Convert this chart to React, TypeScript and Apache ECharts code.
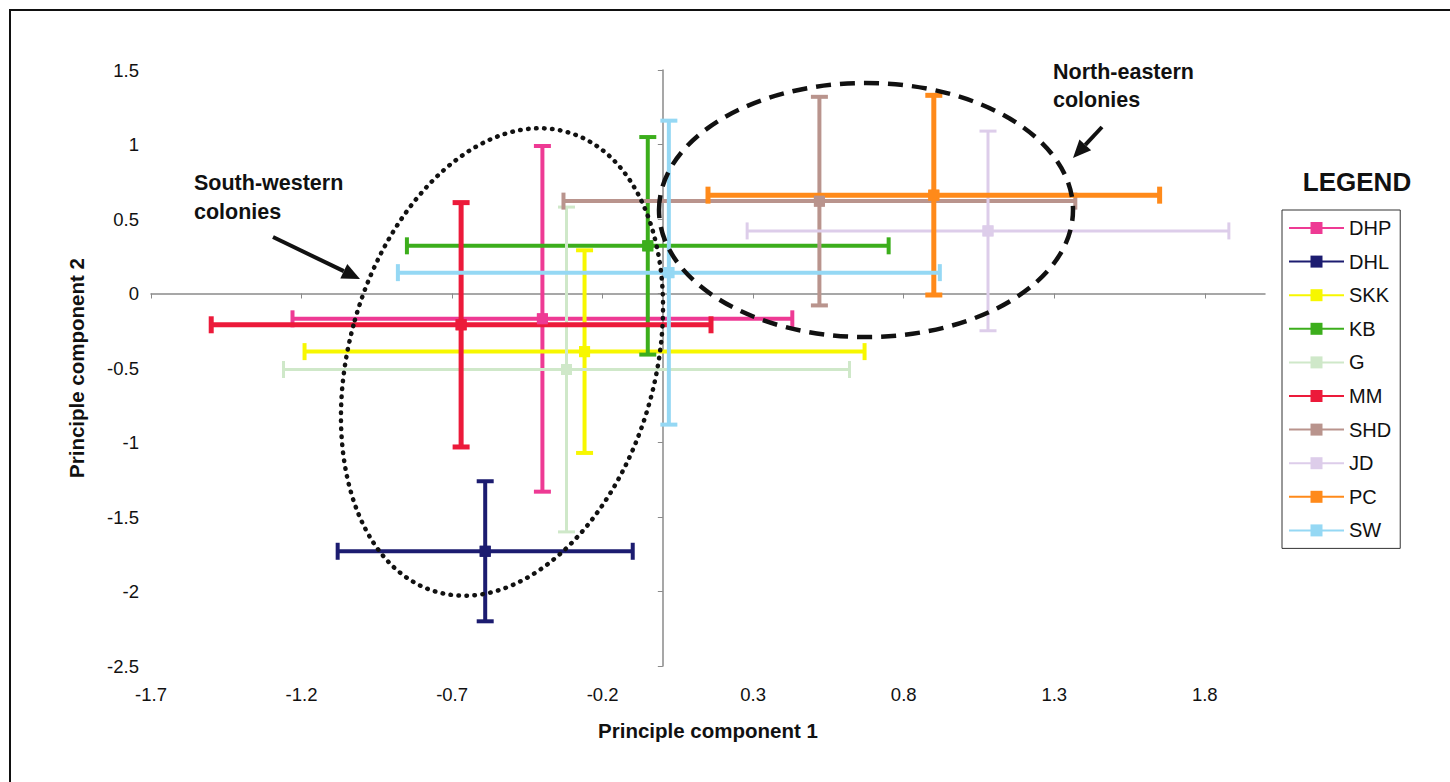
import React, { useEffect, useRef } from 'react';
import * as echarts from 'echarts';

// ---- data ----
const groups = ['DHP', 'DHL', 'SKK', 'KB', 'G', 'MM', 'SHD', 'JD', 'PC', 'SW'];
const pc1 = [-0.40, -0.59, -0.26, -0.05, -0.32, -0.67, 0.52, 1.08, 0.90, 0.02];
const pc1Sd = [0.83, 0.49, 0.93, 0.80, 0.94, 0.83, 0.85, 0.80, 0.75, 0.90];
const pc2 = [-0.17, -1.73, -0.39, 0.32, -0.51, -0.21, 0.62, 0.42, 0.66, 0.14];
const pc2Sd = [1.16, 0.47, 0.68, 0.73, 1.09, 0.82, 0.70, 0.67, 0.67, 1.02];
const xTicks = [-1.7, -1.2, -0.7, -0.2, 0.3, 0.8, 1.3, 1.8];
const yTicks = [-2.5, -2, -1.5, -1, -0.5, 0, 0.5, 1, 1.5];

// ---- styles ----
const colors = ['#ee3a94', '#1c1c70', '#f7f700', '#3cae1c', '#cfe8c9', '#ec1a3a', '#b9948d', '#ddcdea', '#ff8a1a', '#95d8f4'];
const widths = [4, 4, 4, 4, 3, 5, 4, 3, 5, 4];
const FONT = "'Liberation Sans', Arial, Helvetica, sans-serif";

function arrow(x1: number, y1: number, x2: number, y2: number) {
  const dx = x2 - x1, dy = y2 - y1;
  const len = Math.sqrt(dx * dx + dy * dy);
  const ux = dx / len, uy = dy / len;
  const hl = 18, hw = 8;
  const bx = x2 - ux * hl, by = y2 - uy * hl;
  const px = -uy, py = ux;
  return [
    { type: 'line', shape: { x1, y1, x2: bx, y2: by }, style: { stroke: '#111', lineWidth: 4 } },
    {
      type: 'polygon',
      shape: { points: [[x2, y2], [bx + px * hw, by + py * hw], [bx - px * hw, by - py * hw]] },
      style: { fill: '#111' },
    },
  ];
}

export default function App() {
  const ref = useRef<HTMLDivElement>(null);
  useEffect(() => {
    const chart = echarts.init(ref.current!, null, { renderer: 'svg' });
    const series: any[] = [];
    groups.forEach((g, i) => {
      const color = colors[i];
      const lw = widths[i];
      series.push({
        type: 'line',
        name: g,
        data: [[pc1[i], pc2[i]]],
        symbol: 'rect',
        symbolSize: 11,
        itemStyle: { color },
        lineStyle: { color, width: 2 },
        emphasis: { disabled: true },
        silent: true,
      });
      series.push({
        type: 'custom',
        name: g,
        data: [[pc1[i], pc2[i], pc1[i] - pc1Sd[i], pc1[i] + pc1Sd[i], pc2[i] - pc2Sd[i], pc2[i] + pc2Sd[i]]],
        encode: { x: [0, 2, 3], y: [1, 4, 5] },
        silent: true,
        renderItem: (params: any, api: any) => {
          const cx = api.value(0), cy = api.value(1);
          const l = api.coord([api.value(2), cy]);
          const r = api.coord([api.value(3), cy]);
          const b = api.coord([cx, api.value(4)]);
          const t = api.coord([cx, api.value(5)]);
          const c = api.coord([cx, cy]);
          const cap = 8.5;
          const st = { stroke: color, lineWidth: lw };
          const ln = (x1: number, y1: number, x2: number, y2: number) => ({ type: 'line', shape: { x1, y1, x2, y2 }, style: st });
          return {
            type: 'group',
            children: [
              ln(l[0], l[1], r[0], r[1]),
              ln(b[0], b[1], t[0], t[1]),
              ln(l[0], l[1] - cap, l[0], l[1] + cap),
              ln(r[0], r[1] - cap, r[0], r[1] + cap),
              ln(b[0] - cap, b[1], b[0] + cap, b[1]),
              ln(t[0] - cap, t[1], t[0] + cap, t[1]),
              { type: 'rect', shape: { x: c[0] - 5.5, y: c[1] - 5.5, width: 11, height: 11 }, style: { fill: color } },
            ],
          };
        },
      });
    });

    const axisFont = { fontSize: 18.5, color: '#111', fontFamily: FONT };
    const nameFont = { fontSize: 20.5, fontWeight: 'bold', color: '#111', fontFamily: FONT };

    chart.setOption({
      animation: false,
      backgroundColor: '#ffffff',
      grid: { left: 151, right: 185, top: 70, bottom: 116, containLabel: false, outerBoundsMode: 'none' },
      xAxis: [
        {
          type: 'value', min: -1.7, max: 2.0, position: 'top',
          axisLine: { show: true, onZero: true, onZeroAxisIndex: 0, lineStyle: { color: '#8a8a8a', width: 1.5 } },
          axisTick: { show: true, inside: true, length: 5, customValues: xTicks, lineStyle: { color: '#8a8a8a' } },
          axisLabel: { show: false },
          splitLine: { show: false },
        },
        {
          type: 'value', min: -1.7, max: 2.0, position: 'bottom',
          axisLine: { show: false, onZero: false },
          axisTick: { show: false },
          axisLabel: { ...axisFont, margin: 19, customValues: xTicks, formatter: (v: number) => String(Math.round(v * 10) / 10) },
          splitLine: { show: false },
          name: 'Principle component 1', nameLocation: 'middle', nameGap: 54,
          nameTextStyle: nameFont,
        },
      ],
      yAxis: [
        {
          type: 'value', min: -2.5, max: 1.5, interval: 0.5, position: 'right',
          axisLine: { show: true, onZero: true, onZeroAxisIndex: 0, lineStyle: { color: '#8a8a8a', width: 1.5 } },
          axisTick: { show: true, inside: true, length: 5, customValues: yTicks, lineStyle: { color: '#8a8a8a' } },
          axisLabel: { show: false },
          splitLine: { show: false },
        },
        {
          type: 'value', min: -2.5, max: 1.5, interval: 0.5, position: 'left',
          axisLine: { show: false, onZero: false },
          axisTick: { show: false },
          axisLabel: { ...axisFont, margin: 12, customValues: yTicks },
          splitLine: { show: false },
          name: 'Principle component 2', nameLocation: 'middle', nameGap: 64,
          nameTextStyle: nameFont,
        },
      ],
      legend: {
        orient: 'vertical', left: 1282, top: 210,
        data: groups,
        itemWidth: 55, itemHeight: 15, itemGap: 13.6,
        padding: [8, 9, 8, 6],
        borderColor: '#333', borderWidth: 1,
        selectedMode: false,
        textStyle: { fontSize: 20, color: '#111', fontFamily: FONT },
      },
      graphic: [
        { type: 'polyline', shape: { points: [[10, 782], [10, 10], [1450, 10]] }, style: { stroke: '#111', lineWidth: 2, fill: 'none' }, silent: true },
        {
          type: 'ellipse', x: 502, y: 362, rotation: -0.277,
          shape: { cx: 0, cy: 0, rx: 153, ry: 239 },
          style: { fill: 'none', stroke: '#111', lineWidth: 4.5, lineDash: [0.5, 7.5], lineCap: 'round' },
          silent: true, z: 100,
        },
        {
          type: 'ellipse', x: 866, y: 210,
          shape: { cx: 0, cy: 0, rx: 207, ry: 127 },
          style: { fill: 'none', stroke: '#111', lineWidth: 4.5, lineDash: [15, 9] },
          silent: true, z: 100,
        },
        ...arrow(273, 237, 360, 279).map((e) => ({ ...e, silent: true, z: 100 })),
        ...arrow(1102, 127, 1073, 158).map((e) => ({ ...e, silent: true, z: 100 })),
        {
          type: 'text', x: 194, y: 168, z: 100,
          style: { text: 'South-western\ncolonies', fontSize: 21.5, fontWeight: 'bold', fontFamily: FONT, fill: '#111', lineHeight: 29, align: 'left', verticalAlign: 'top' },
        },
        {
          type: 'text', x: 1053, y: 58, z: 100,
          style: { text: 'North-eastern\ncolonies', fontSize: 21.5, fontWeight: 'bold', fontFamily: FONT, fill: '#111', lineHeight: 28, align: 'left', verticalAlign: 'top' },
        },
        {
          type: 'text', x: 1357, y: 182, z: 100,
          style: { text: 'LEGEND', fontSize: 26, fontWeight: 'bold', fontFamily: FONT, fill: '#111', align: 'center', verticalAlign: 'middle' },
        },
      ],
      series,
    });
    return () => chart.dispose();
  }, []);
  return <div ref={ref} style={{ position: 'fixed', left: 0, top: 0, width: 1450, height: 782, background: '#fff' }} />;
}
